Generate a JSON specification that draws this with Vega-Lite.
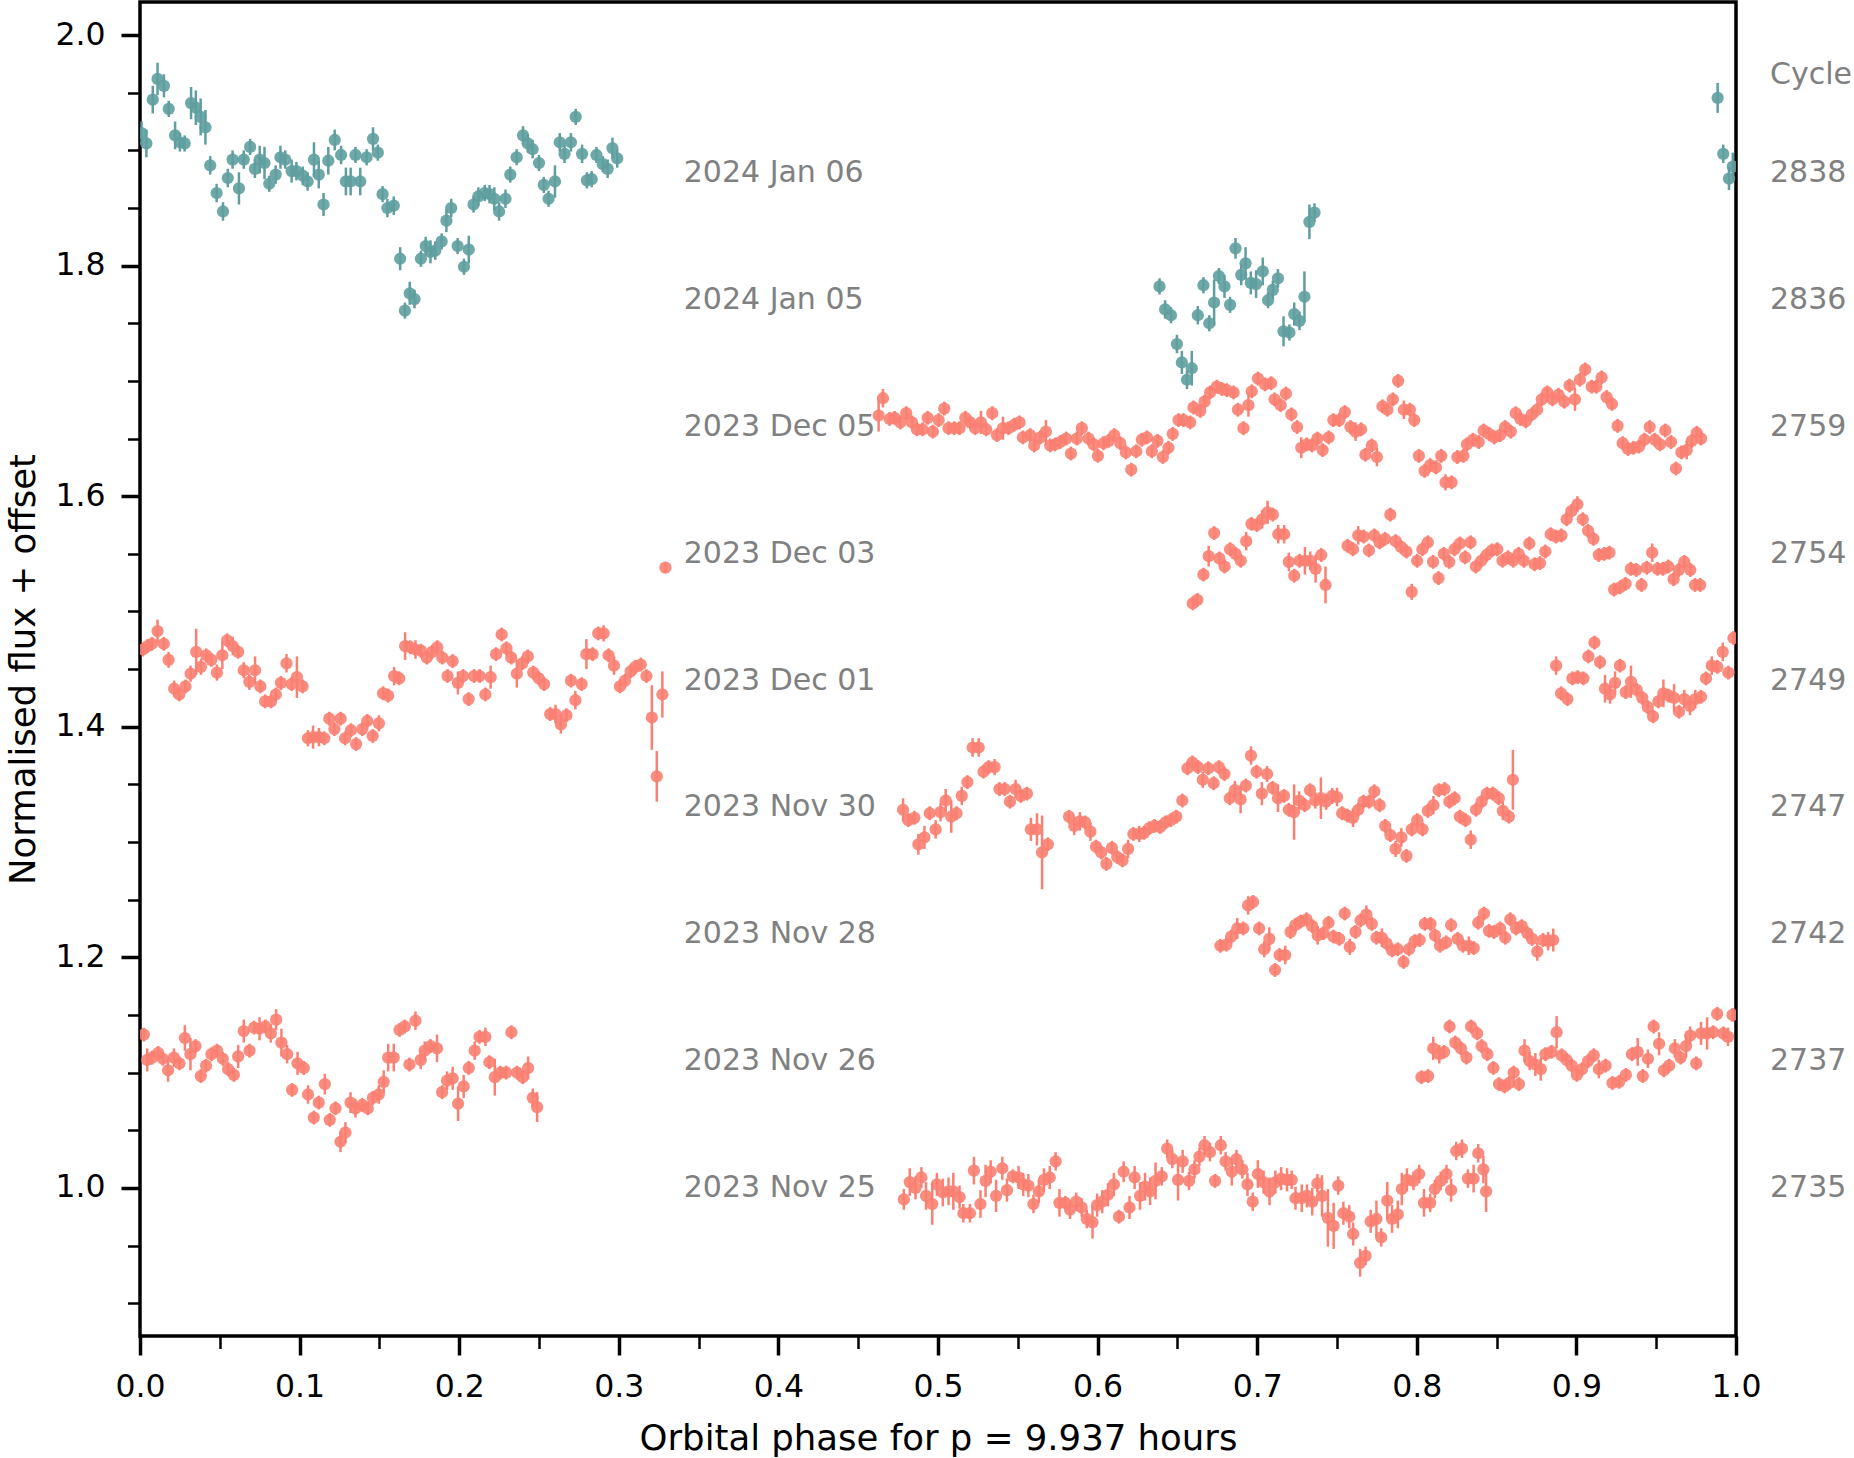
{
  "$schema": "https://vega.github.io/schema/vega-lite/v6.json",
  "width": 1596,
  "height": 1334,
  "autosize": {"type": "none"},
  "padding": {"left": 140, "top": 2, "right": 118, "bottom": 122},
  "background": "white",
  "config": {
    "view": {"stroke": "black", "strokeWidth": 3.5},
    "font": "DejaVu Sans",
    "axis": {
      "domain": false, "grid": false,
      "labelFont": "DejaVu Sans", "labelFontSize": 31.5, "labelColor": "black",
      "titleFont": "DejaVu Sans", "titleFontSize": 35.5, "titleFontWeight": "normal", "titleColor": "black",
      "tickColor": "black", "labelPadding": 16, "labelFlush": false, "labelOverlap": false, "labelBound": false
    }
  },
  "data": {"values": [
    {"s":"2838","p":0.001,"f":1.915,"e":0.010},{"s":"2838","p":0.004,"f":1.906,"e":0.012},{"s":"2838","p":0.008,"f":1.944,"e":0.012},{"s":"2838","p":0.011,"f":1.962,"e":0.014},
    {"s":"2838","p":0.015,"f":1.956,"e":0.010},{"s":"2838","p":0.018,"f":1.936,"e":0.007},{"s":"2838","p":0.022,"f":1.913,"e":0.012},{"s":"2838","p":0.025,"f":1.907,"e":0.008},
    {"s":"2838","p":0.028,"f":1.906,"e":0.007},{"s":"2838","p":0.032,"f":1.941,"e":0.014},{"s":"2838","p":0.035,"f":1.937,"e":0.015},{"s":"2838","p":0.038,"f":1.929,"e":0.016},
    {"s":"2838","p":0.041,"f":1.920,"e":0.015},{"s":"2838","p":0.044,"f":1.887,"e":0.008},{"s":"2838","p":0.048,"f":1.863,"e":0.008},{"s":"2838","p":0.052,"f":1.847,"e":0.008},
    {"s":"2838","p":0.055,"f":1.876,"e":0.008},{"s":"2838","p":0.058,"f":1.892,"e":0.008},{"s":"2838","p":0.062,"f":1.867,"e":0.014},{"s":"2838","p":0.065,"f":1.892,"e":0.008},
    {"s":"2838","p":0.069,"f":1.903,"e":0.007},{"s":"2838","p":0.072,"f":1.884,"e":0.008},{"s":"2838","p":0.075,"f":1.892,"e":0.012},{"s":"2838","p":0.078,"f":1.889,"e":0.014},
    {"s":"2838","p":0.081,"f":1.871,"e":0.007},{"s":"2838","p":0.085,"f":1.879,"e":0.008},{"s":"2838","p":0.088,"f":1.894,"e":0.010},{"s":"2838","p":0.091,"f":1.892,"e":0.008},
    {"s":"2838","p":0.095,"f":1.882,"e":0.010},{"s":"2838","p":0.098,"f":1.882,"e":0.008},{"s":"2838","p":0.102,"f":1.878,"e":0.008},{"s":"2838","p":0.105,"f":1.873,"e":0.008},
    {"s":"2838","p":0.109,"f":1.892,"e":0.015},{"s":"2838","p":0.112,"f":1.879,"e":0.012},{"s":"2838","p":0.115,"f":1.853,"e":0.010},{"s":"2838","p":0.118,"f":1.891,"e":0.012},
    {"s":"2838","p":0.122,"f":1.909,"e":0.009},{"s":"2838","p":0.126,"f":1.896,"e":0.008},{"s":"2838","p":0.129,"f":1.873,"e":0.012},{"s":"2838","p":0.132,"f":1.873,"e":0.012},
    {"s":"2838","p":0.135,"f":1.896,"e":0.007},{"s":"2838","p":0.138,"f":1.873,"e":0.012},{"s":"2838","p":0.142,"f":1.894,"e":0.007},{"s":"2838","p":0.146,"f":1.910,"e":0.010},
    {"s":"2838","p":0.149,"f":1.898,"e":0.007},{"s":"2838","p":0.152,"f":1.862,"e":0.007},{"s":"2838","p":0.155,"f":1.850,"e":0.008},{"s":"2838","p":0.159,"f":1.852,"e":0.008},
    {"s":"2838","p":0.163,"f":1.806,"e":0.010},{"s":"2838","p":0.166,"f":1.761,"e":0.007},{"s":"2838","p":0.169,"f":1.776,"e":0.010},{"s":"2838","p":0.172,"f":1.771,"e":0.008},
    {"s":"2838","p":0.176,"f":1.806,"e":0.007},{"s":"2838","p":0.179,"f":1.817,"e":0.008},{"s":"2838","p":0.182,"f":1.812,"e":0.010},{"s":"2838","p":0.185,"f":1.813,"e":0.008},
    {"s":"2838","p":0.189,"f":1.821,"e":0.007},{"s":"2838","p":0.192,"f":1.839,"e":0.010},{"s":"2838","p":0.195,"f":1.850,"e":0.008},{"s":"2838","p":0.199,"f":1.817,"e":0.007},
    {"s":"2838","p":0.203,"f":1.799,"e":0.007},{"s":"2838","p":0.206,"f":1.814,"e":0.012},{"s":"2838","p":0.209,"f":1.853,"e":0.007},{"s":"2838","p":0.212,"f":1.860,"e":0.008},
    {"s":"2838","p":0.216,"f":1.863,"e":0.007},{"s":"2838","p":0.219,"f":1.862,"e":0.008},{"s":"2838","p":0.222,"f":1.858,"e":0.010},{"s":"2838","p":0.225,"f":1.847,"e":0.008},
    {"s":"2838","p":0.229,"f":1.858,"e":0.008},{"s":"2838","p":0.232,"f":1.879,"e":0.007},{"s":"2838","p":0.236,"f":1.894,"e":0.007},{"s":"2838","p":0.240,"f":1.913,"e":0.008},
    {"s":"2838","p":0.243,"f":1.906,"e":0.008},{"s":"2838","p":0.246,"f":1.901,"e":0.008},{"s":"2838","p":0.250,"f":1.889,"e":0.007},{"s":"2838","p":0.253,"f":1.870,"e":0.007},
    {"s":"2838","p":0.256,"f":1.858,"e":0.007},{"s":"2838","p":0.260,"f":1.873,"e":0.014},{"s":"2838","p":0.263,"f":1.907,"e":0.008},{"s":"2838","p":0.266,"f":1.897,"e":0.008},
    {"s":"2838","p":0.270,"f":1.907,"e":0.008},{"s":"2838","p":0.273,"f":1.929,"e":0.007},{"s":"2838","p":0.277,"f":1.897,"e":0.008},{"s":"2838","p":0.280,"f":1.874,"e":0.007},
    {"s":"2838","p":0.283,"f":1.875,"e":0.007},{"s":"2838","p":0.286,"f":1.896,"e":0.007},{"s":"2838","p":0.290,"f":1.888,"e":0.007},{"s":"2838","p":0.293,"f":1.884,"e":0.008},
    {"s":"2838","p":0.296,"f":1.902,"e":0.009},{"s":"2838","p":0.299,"f":1.893,"e":0.008},
    {"s":"2838","p":0.9885,"f":1.9455,"e":0.013},{"s":"2838","p":0.992,"f":1.897,"e":0.008},{"s":"2838","p":0.9956,"f":1.8755,"e":0.010},{"s":"2838","p":0.998,"f":1.886,"e":0.012},

    {"s":"2836","p":0.6388,"f":1.782,"e":0.007},{"s":"2836","p":0.6423,"f":1.762,"e":0.008},{"s":"2836","p":0.646,"f":1.757,"e":0.007},{"s":"2836","p":0.6497,"f":1.732,"e":0.008},
    {"s":"2836","p":0.6528,"f":1.716,"e":0.010},{"s":"2836","p":0.656,"f":1.701,"e":0.008},{"s":"2836","p":0.659,"f":1.711,"e":0.015},{"s":"2836","p":0.6628,"f":1.757,"e":0.008},
    {"s":"2836","p":0.6663,"f":1.783,"e":0.007},{"s":"2836","p":0.670,"f":1.750,"e":0.007},{"s":"2836","p":0.673,"f":1.768,"e":0.020},{"s":"2836","p":0.676,"f":1.791,"e":0.007},
    {"s":"2836","p":0.6795,"f":1.782,"e":0.010},{"s":"2836","p":0.683,"f":1.766,"e":0.007},{"s":"2836","p":0.6864,"f":1.815,"e":0.009},{"s":"2836","p":0.690,"f":1.792,"e":0.009},
    {"s":"2836","p":0.6927,"f":1.802,"e":0.014},{"s":"2836","p":0.696,"f":1.785,"e":0.010},{"s":"2836","p":0.6993,"f":1.784,"e":0.012},{"s":"2836","p":0.7035,"f":1.795,"e":0.012},
    {"s":"2836","p":0.7068,"f":1.770,"e":0.007},{"s":"2836","p":0.7098,"f":1.779,"e":0.008},{"s":"2836","p":0.713,"f":1.789,"e":0.008},{"s":"2836","p":0.7165,"f":1.743,"e":0.013},
    {"s":"2836","p":0.7202,"f":1.742,"e":0.007},{"s":"2836","p":0.7232,"f":1.758,"e":0.010},{"s":"2836","p":0.7265,"f":1.752,"e":0.008},{"s":"2836","p":0.7296,"f":1.773,"e":0.022},
    {"s":"2836","p":0.7327,"f":1.838,"e":0.015},{"s":"2836","p":0.7359,"f":1.846,"e":0.008},

    {"s":"2759","p":0.4628,"f":1.670,"e":0.014},{"s":"2759","p":0.4655,"f":1.685,"e":0.008},{"s":"2759","p":0.4697,"f":1.667,"e":0.006},{"s":"2759","p":0.4728,"f":1.668,"e":0.006},
    {"s":"2759","p":0.4764,"f":1.664,"e":0.006},{"s":"2759","p":0.4801,"f":1.672,"e":0.006},{"s":"2759","p":0.4837,"f":1.664,"e":0.006},{"s":"2759","p":0.4868,"f":1.658,"e":0.006},
    {"s":"2759","p":0.4903,"f":1.658,"e":0.006},{"s":"2759","p":0.4935,"f":1.668,"e":0.006},{"s":"2759","p":0.4968,"f":1.656,"e":0.006},{"s":"2759","p":0.5004,"f":1.666,"e":0.006},
    {"s":"2759","p":0.5039,"f":1.676,"e":0.006},{"s":"2759","p":0.5066,"f":1.659,"e":0.006},{"s":"2759","p":0.5102,"f":1.659,"e":0.006},{"s":"2759","p":0.5135,"f":1.659,"e":0.006},
    {"s":"2759","p":0.5171,"f":1.668,"e":0.006},{"s":"2759","p":0.5202,"f":1.664,"e":0.006},{"s":"2759","p":0.5233,"f":1.659,"e":0.006},{"s":"2759","p":0.5269,"f":1.664,"e":0.010},
    {"s":"2759","p":0.5302,"f":1.658,"e":0.006},{"s":"2759","p":0.5340,"f":1.672,"e":0.006},{"s":"2759","p":0.5369,"f":1.653,"e":0.006},{"s":"2759","p":0.5407,"f":1.659,"e":0.010},
    {"s":"2759","p":0.5442,"f":1.659,"e":0.006},{"s":"2759","p":0.5478,"f":1.662,"e":0.006},{"s":"2759","p":0.5511,"f":1.664,"e":0.006},{"s":"2759","p":0.5532,"f":1.651,"e":0.006},
    {"s":"2759","p":0.5578,"f":1.653,"e":0.006},{"s":"2759","p":0.5603,"f":1.644,"e":0.006},{"s":"2759","p":0.5641,"f":1.651,"e":0.006},{"s":"2759","p":0.5676,"f":1.656,"e":0.010},
    {"s":"2759","p":0.5703,"f":1.644,"e":0.006},{"s":"2759","p":0.5734,"f":1.645,"e":0.006},{"s":"2759","p":0.5766,"f":1.647,"e":0.006},{"s":"2759","p":0.5803,"f":1.650,"e":0.006},
    {"s":"2759","p":0.5833,"f":1.637,"e":0.006},{"s":"2759","p":0.5870,"f":1.650,"e":0.006},{"s":"2759","p":0.5901,"f":1.659,"e":0.006},{"s":"2759","p":0.5943,"f":1.650,"e":0.006},
    {"s":"2759","p":0.5975,"f":1.645,"e":0.006},{"s":"2759","p":0.6002,"f":1.635,"e":0.006},{"s":"2759","p":0.6037,"f":1.646,"e":0.006},{"s":"2759","p":0.6069,"f":1.648,"e":0.006},
    {"s":"2759","p":0.6104,"f":1.653,"e":0.006},{"s":"2759","p":0.6142,"f":1.646,"e":0.006},{"s":"2759","p":0.6177,"f":1.638,"e":0.006},{"s":"2759","p":0.6211,"f":1.623,"e":0.006},
    {"s":"2759","p":0.6242,"f":1.639,"e":0.006},{"s":"2759","p":0.6277,"f":1.649,"e":0.006},{"s":"2759","p":0.6309,"f":1.651,"e":0.006},{"s":"2759","p":0.6340,"f":1.639,"e":0.006},
    {"s":"2759","p":0.6375,"f":1.648,"e":0.006},{"s":"2759","p":0.6409,"f":1.634,"e":0.006},{"s":"2759","p":0.6444,"f":1.642,"e":0.006},{"s":"2759","p":0.6471,"f":1.654,"e":0.006},
    {"s":"2759","p":0.6507,"f":1.666,"e":0.006},{"s":"2759","p":0.6538,"f":1.666,"e":0.006},{"s":"2759","p":0.6580,"f":1.664,"e":0.006},{"s":"2759","p":0.6601,"f":1.677,"e":0.006},
    {"s":"2759","p":0.6643,"f":1.674,"e":0.006},{"s":"2759","p":0.6670,"f":1.682,"e":0.006},{"s":"2759","p":0.6705,"f":1.690,"e":0.006},{"s":"2759","p":0.6747,"f":1.695,"e":0.006},
    {"s":"2759","p":0.6779,"f":1.693,"e":0.006},{"s":"2759","p":0.6810,"f":1.692,"e":0.006},{"s":"2759","p":0.6852,"f":1.690,"e":0.006},{"s":"2759","p":0.6879,"f":1.675,"e":0.006},
    {"s":"2759","p":0.6914,"f":1.659,"e":0.006},{"s":"2759","p":0.6945,"f":1.679,"e":0.010},{"s":"2759","p":0.6966,"f":1.691,"e":0.006},{"s":"2759","p":0.7005,"f":1.702,"e":0.006},
    {"s":"2759","p":0.7049,"f":1.697,"e":0.006},{"s":"2759","p":0.7087,"f":1.698,"e":0.006},{"s":"2759","p":0.7109,"f":1.684,"e":0.006},{"s":"2759","p":0.7147,"f":1.679,"e":0.006},
    {"s":"2759","p":0.7180,"f":1.689,"e":0.006},{"s":"2759","p":0.7214,"f":1.671,"e":0.006},{"s":"2759","p":0.7250,"f":1.660,"e":0.006},{"s":"2759","p":0.7276,"f":1.642,"e":0.009},
    {"s":"2759","p":0.7310,"f":1.645,"e":0.006},{"s":"2759","p":0.7343,"f":1.644,"e":0.006},{"s":"2759","p":0.7377,"f":1.650,"e":0.006},{"s":"2759","p":0.7410,"f":1.640,"e":0.006},
    {"s":"2759","p":0.7448,"f":1.651,"e":0.006},{"s":"2759","p":0.7477,"f":1.666,"e":0.006},{"s":"2759","p":0.7515,"f":1.666,"e":0.006},{"s":"2759","p":0.7549,"f":1.673,"e":0.006},
    {"s":"2759","p":0.7584,"f":1.660,"e":0.006},{"s":"2759","p":0.7616,"f":1.656,"e":0.008},{"s":"2759","p":0.7651,"f":1.658,"e":0.006},{"s":"2759","p":0.7678,"f":1.636,"e":0.006},
    {"s":"2759","p":0.7718,"f":1.644,"e":0.006},{"s":"2759","p":0.7750,"f":1.634,"e":0.008},{"s":"2759","p":0.7785,"f":1.678,"e":0.006},{"s":"2759","p":0.7816,"f":1.675,"e":0.006},
    {"s":"2759","p":0.7850,"f":1.684,"e":0.006},{"s":"2759","p":0.7883,"f":1.700,"e":0.006},{"s":"2759","p":0.7919,"f":1.675,"e":0.008},{"s":"2759","p":0.7957,"f":1.675,"e":0.006},
    {"s":"2759","p":0.7984,"f":1.666,"e":0.006},{"s":"2759","p":0.8013,"f":1.635,"e":0.006},{"s":"2759","p":0.8049,"f":1.622,"e":0.006},{"s":"2759","p":0.8084,"f":1.627,"e":0.006},
    {"s":"2759","p":0.8120,"f":1.625,"e":0.006},{"s":"2759","p":0.8153,"f":1.635,"e":0.006},{"s":"2759","p":0.8180,"f":1.612,"e":0.007},{"s":"2759","p":0.8218,"f":1.612,"e":0.006},
    {"s":"2759","p":0.8254,"f":1.634,"e":0.006},{"s":"2759","p":0.8292,"f":1.635,"e":0.006},{"s":"2759","p":0.8314,"f":1.645,"e":0.006},{"s":"2759","p":0.8352,"f":1.649,"e":0.006},
    {"s":"2759","p":0.8388,"f":1.647,"e":0.006},{"s":"2759","p":0.8419,"f":1.657,"e":0.006},{"s":"2759","p":0.8453,"f":1.654,"e":0.006},{"s":"2759","p":0.8486,"f":1.651,"e":0.006},
    {"s":"2759","p":0.8522,"f":1.653,"e":0.006},{"s":"2759","p":0.8553,"f":1.660,"e":0.006},{"s":"2759","p":0.8589,"f":1.656,"e":0.006},{"s":"2759","p":0.8620,"f":1.672,"e":0.006},
    {"s":"2759","p":0.8649,"f":1.667,"e":0.006},{"s":"2759","p":0.8683,"f":1.665,"e":0.006},{"s":"2759","p":0.8721,"f":1.671,"e":0.006},{"s":"2759","p":0.8754,"f":1.675,"e":0.006},
    {"s":"2759","p":0.8783,"f":1.684,"e":0.006},{"s":"2759","p":0.8817,"f":1.690,"e":0.006},{"s":"2759","p":0.8850,"f":1.684,"e":0.006},{"s":"2759","p":0.8888,"f":1.688,"e":0.006},
    {"s":"2759","p":0.8924,"f":1.682,"e":0.006},{"s":"2759","p":0.8957,"f":1.696,"e":0.006},{"s":"2759","p":0.8991,"f":1.684,"e":0.010},{"s":"2759","p":0.9022,"f":1.701,"e":0.006},
    {"s":"2759","p":0.9055,"f":1.710,"e":0.006},{"s":"2759","p":0.9096,"f":1.695,"e":0.006},{"s":"2759","p":0.9125,"f":1.695,"e":0.006},{"s":"2759","p":0.9158,"f":1.703,"e":0.006},
    {"s":"2759","p":0.9189,"f":1.686,"e":0.006},{"s":"2759","p":0.9223,"f":1.680,"e":0.006},{"s":"2759","p":0.9258,"f":1.661,"e":0.006},{"s":"2759","p":0.9290,"f":1.646,"e":0.006},
    {"s":"2759","p":0.9323,"f":1.641,"e":0.006},{"s":"2759","p":0.9357,"f":1.642,"e":0.006},{"s":"2759","p":0.9392,"f":1.643,"e":0.006},{"s":"2759","p":0.9426,"f":1.649,"e":0.006},
    {"s":"2759","p":0.9459,"f":1.660,"e":0.006},{"s":"2759","p":0.9491,"f":1.649,"e":0.006},{"s":"2759","p":0.9524,"f":1.645,"e":0.006},{"s":"2759","p":0.9557,"f":1.657,"e":0.006},
    {"s":"2759","p":0.9593,"f":1.647,"e":0.006},{"s":"2759","p":0.9624,"f":1.624,"e":0.006},{"s":"2759","p":0.9658,"f":1.638,"e":0.006},{"s":"2759","p":0.9691,"f":1.640,"e":0.008},
    {"s":"2759","p":0.9723,"f":1.648,"e":0.006},{"s":"2759","p":0.9754,"f":1.655,"e":0.006},{"s":"2759","p":0.9781,"f":1.650,"e":0.006},

    {"s":"2754","p":0.6596,"f":1.507,"e":0.006},{"s":"2754","p":0.6625,"f":1.510,"e":0.006},{"s":"2754","p":0.6663,"f":1.532,"e":0.006},{"s":"2754","p":0.6696,"f":1.548,"e":0.009},
    {"s":"2754","p":0.6730,"f":1.568,"e":0.006},{"s":"2754","p":0.6763,"f":1.546,"e":0.006},{"s":"2754","p":0.6796,"f":1.539,"e":0.006},{"s":"2754","p":0.6830,"f":1.554,"e":0.006},
    {"s":"2754","p":0.6864,"f":1.550,"e":0.006},{"s":"2754","p":0.6897,"f":1.544,"e":0.006},{"s":"2754","p":0.6931,"f":1.561,"e":0.008},{"s":"2754","p":0.6964,"f":1.576,"e":0.006},
    {"s":"2754","p":0.6998,"f":1.575,"e":0.006},{"s":"2754","p":0.7031,"f":1.580,"e":0.008},{"s":"2754","p":0.7065,"f":1.586,"e":0.010},{"s":"2754","p":0.7098,"f":1.584,"e":0.006},
    {"s":"2754","p":0.7132,"f":1.567,"e":0.008},{"s":"2754","p":0.7169,"f":1.567,"e":0.008},{"s":"2754","p":0.7198,"f":1.543,"e":0.008},{"s":"2754","p":0.7232,"f":1.531,"e":0.006},
    {"s":"2754","p":0.7265,"f":1.544,"e":0.006},{"s":"2754","p":0.7299,"f":1.544,"e":0.012},{"s":"2754","p":0.7332,"f":1.544,"e":0.008},{"s":"2754","p":0.7366,"f":1.537,"e":0.012},
    {"s":"2754","p":0.7401,"f":1.549,"e":0.006},{"s":"2754","p":0.7428,"f":1.523,"e":0.016},{"s":"2754","p":0.7566,"f":1.557,"e":0.006},{"s":"2754","p":0.7600,"f":1.554,"e":0.006},
    {"s":"2754","p":0.7633,"f":1.566,"e":0.008},{"s":"2754","p":0.7667,"f":1.565,"e":0.006},{"s":"2754","p":0.7700,"f":1.553,"e":0.006},{"s":"2754","p":0.7734,"f":1.566,"e":0.006},
    {"s":"2754","p":0.7767,"f":1.560,"e":0.006},{"s":"2754","p":0.7801,"f":1.563,"e":0.006},{"s":"2754","p":0.7834,"f":1.584,"e":0.006},{"s":"2754","p":0.7868,"f":1.561,"e":0.006},
    {"s":"2754","p":0.7901,"f":1.556,"e":0.006},{"s":"2754","p":0.7935,"f":1.552,"e":0.006},{"s":"2754","p":0.7968,"f":1.517,"e":0.007},{"s":"2754","p":0.8002,"f":1.544,"e":0.006},
    {"s":"2754","p":0.8035,"f":1.554,"e":0.006},{"s":"2754","p":0.8069,"f":1.560,"e":0.006},{"s":"2754","p":0.8102,"f":1.543,"e":0.006},{"s":"2754","p":0.8136,"f":1.529,"e":0.006},
    {"s":"2754","p":0.8169,"f":1.550,"e":0.006},{"s":"2754","p":0.8203,"f":1.543,"e":0.006},{"s":"2754","p":0.8236,"f":1.554,"e":0.006},{"s":"2754","p":0.8270,"f":1.559,"e":0.006},
    {"s":"2754","p":0.8303,"f":1.547,"e":0.006},{"s":"2754","p":0.8337,"f":1.560,"e":0.006},{"s":"2754","p":0.8370,"f":1.539,"e":0.006},{"s":"2754","p":0.8404,"f":1.544,"e":0.006},
    {"s":"2754","p":0.8437,"f":1.549,"e":0.006},{"s":"2754","p":0.8471,"f":1.553,"e":0.006},{"s":"2754","p":0.8504,"f":1.554,"e":0.006},{"s":"2754","p":0.8537,"f":1.544,"e":0.006},
    {"s":"2754","p":0.8571,"f":1.547,"e":0.006},{"s":"2754","p":0.8604,"f":1.544,"e":0.006},{"s":"2754","p":0.8638,"f":1.550,"e":0.006},{"s":"2754","p":0.8671,"f":1.544,"e":0.006},
    {"s":"2754","p":0.8705,"f":1.559,"e":0.006},{"s":"2754","p":0.8738,"f":1.541,"e":0.006},{"s":"2754","p":0.8772,"f":1.542,"e":0.006},{"s":"2754","p":0.8805,"f":1.552,"e":0.006},
    {"s":"2754","p":0.8839,"f":1.567,"e":0.006},{"s":"2754","p":0.8872,"f":1.565,"e":0.006},{"s":"2754","p":0.8906,"f":1.566,"e":0.006},{"s":"2754","p":0.8939,"f":1.580,"e":0.006},
    {"s":"2754","p":0.8968,"f":1.587,"e":0.006},{"s":"2754","p":0.9006,"f":1.593,"e":0.007},{"s":"2754","p":0.9040,"f":1.580,"e":0.006},{"s":"2754","p":0.9073,"f":1.570,"e":0.006},
    {"s":"2754","p":0.9107,"f":1.563,"e":0.006},{"s":"2754","p":0.9140,"f":1.549,"e":0.006},{"s":"2754","p":0.9174,"f":1.550,"e":0.006},{"s":"2754","p":0.9207,"f":1.551,"e":0.006},
    {"s":"2754","p":0.9236,"f":1.519,"e":0.006},{"s":"2754","p":0.9274,"f":1.521,"e":0.006},{"s":"2754","p":0.9308,"f":1.524,"e":0.006},{"s":"2754","p":0.9341,"f":1.537,"e":0.006},
    {"s":"2754","p":0.9375,"f":1.536,"e":0.006},{"s":"2754","p":0.9408,"f":1.523,"e":0.006},{"s":"2754","p":0.9441,"f":1.538,"e":0.006},{"s":"2754","p":0.9475,"f":1.551,"e":0.008},
    {"s":"2754","p":0.9508,"f":1.537,"e":0.006},{"s":"2754","p":0.9542,"f":1.537,"e":0.006},{"s":"2754","p":0.9576,"f":1.539,"e":0.006},{"s":"2754","p":0.9609,"f":1.528,"e":0.006},
    {"s":"2754","p":0.9642,"f":1.536,"e":0.006},{"s":"2754","p":0.9676,"f":1.543,"e":0.006},{"s":"2754","p":0.9714,"f":1.536,"e":0.006},{"s":"2754","p":0.9743,"f":1.523,"e":0.006},
    {"s":"2754","p":0.9776,"f":1.523,"e":0.006},

    {"s":"2749","p":0.0019,"f":1.467,"e":0.006},{"s":"2749","p":0.0047,"f":1.470,"e":0.006},{"s":"2749","p":0.0075,"f":1.472,"e":0.006},{"s":"2749","p":0.0110,"f":1.483,"e":0.010},
    {"s":"2749","p":0.0149,"f":1.472,"e":0.006},{"s":"2749","p":0.0179,"f":1.458,"e":0.007},{"s":"2749","p":0.0214,"f":1.433,"e":0.007},{"s":"2749","p":0.0246,"f":1.428,"e":0.006},
    {"s":"2749","p":0.0285,"f":1.435,"e":0.006},{"s":"2749","p":0.0317,"f":1.446,"e":0.007},{"s":"2749","p":0.0352,"f":1.465,"e":0.020},{"s":"2749","p":0.0382,"f":1.452,"e":0.007},
    {"s":"2749","p":0.0415,"f":1.462,"e":0.006},{"s":"2749","p":0.0447,"f":1.458,"e":0.006},{"s":"2749","p":0.0482,"f":1.447,"e":0.007},{"s":"2749","p":0.0516,"f":1.462,"e":0.012},
    {"s":"2749","p":0.0546,"f":1.475,"e":0.006},{"s":"2749","p":0.0581,"f":1.470,"e":0.008},{"s":"2749","p":0.0615,"f":1.465,"e":0.006},{"s":"2749","p":0.0650,"f":1.449,"e":0.007},
    {"s":"2749","p":0.0685,"f":1.439,"e":0.007},{"s":"2749","p":0.0721,"f":1.449,"e":0.012},{"s":"2749","p":0.0754,"f":1.435,"e":0.006},{"s":"2749","p":0.0784,"f":1.422,"e":0.006},
    {"s":"2749","p":0.0821,"f":1.422,"e":0.006},{"s":"2749","p":0.0851,"f":1.428,"e":0.006},{"s":"2749","p":0.0883,"f":1.438,"e":0.006},{"s":"2749","p":0.0918,"f":1.455,"e":0.008},
    {"s":"2749","p":0.0950,"f":1.437,"e":0.006},{"s":"2749","p":0.0983,"f":1.443,"e":0.018},{"s":"2749","p":0.1019,"f":1.435,"e":0.006},{"s":"2749","p":0.1052,"f":1.390,"e":0.007},
    {"s":"2749","p":0.1084,"f":1.391,"e":0.010},{"s":"2749","p":0.1121,"f":1.391,"e":0.008},{"s":"2749","p":0.1155,"f":1.390,"e":0.006},{"s":"2749","p":0.1186,"f":1.407,"e":0.006},
    {"s":"2749","p":0.1218,"f":1.398,"e":0.006},{"s":"2749","p":0.1257,"f":1.407,"e":0.006},{"s":"2749","p":0.1285,"f":1.390,"e":0.006},{"s":"2749","p":0.1322,"f":1.397,"e":0.006},
    {"s":"2749","p":0.1354,"f":1.385,"e":0.006},{"s":"2749","p":0.1393,"f":1.398,"e":0.006},{"s":"2749","p":0.1424,"f":1.405,"e":0.006},{"s":"2749","p":0.1458,"f":1.392,"e":0.006},
    {"s":"2749","p":0.1497,"f":1.403,"e":0.007},{"s":"2749","p":0.1523,"f":1.429,"e":0.006},{"s":"2749","p":0.1555,"f":1.427,"e":0.006},{"s":"2749","p":0.1592,"f":1.444,"e":0.008},
    {"s":"2749","p":0.1624,"f":1.442,"e":0.006},{"s":"2749","p":0.1661,"f":1.470,"e":0.012},{"s":"2749","p":0.1693,"f":1.469,"e":0.006},{"s":"2749","p":0.1726,"f":1.467,"e":0.008},
    {"s":"2749","p":0.1760,"f":1.466,"e":0.006},{"s":"2749","p":0.1797,"f":1.460,"e":0.006},{"s":"2749","p":0.1830,"f":1.465,"e":0.006},{"s":"2749","p":0.1862,"f":1.469,"e":0.006},
    {"s":"2749","p":0.1894,"f":1.460,"e":0.006},{"s":"2749","p":0.1927,"f":1.444,"e":0.006},{"s":"2749","p":0.1959,"f":1.457,"e":0.006},{"s":"2749","p":0.1992,"f":1.438,"e":0.010},
    {"s":"2749","p":0.2024,"f":1.444,"e":0.006},{"s":"2749","p":0.2059,"f":1.424,"e":0.006},{"s":"2749","p":0.2093,"f":1.444,"e":0.006},{"s":"2749","p":0.2128,"f":1.444,"e":0.006},
    {"s":"2749","p":0.2164,"f":1.428,"e":0.006},{"s":"2749","p":0.2197,"f":1.443,"e":0.010},{"s":"2749","p":0.2231,"f":1.463,"e":0.006},{"s":"2749","p":0.2266,"f":1.480,"e":0.006},
    {"s":"2749","p":0.2296,"f":1.468,"e":0.006},{"s":"2749","p":0.2326,"f":1.460,"e":0.006},{"s":"2749","p":0.2361,"f":1.446,"e":0.012},{"s":"2749","p":0.2395,"f":1.455,"e":0.006},
    {"s":"2749","p":0.2430,"f":1.461,"e":0.006},{"s":"2749","p":0.2464,"f":1.447,"e":0.006},{"s":"2749","p":0.2499,"f":1.442,"e":0.006},{"s":"2749","p":0.2532,"f":1.437,"e":0.006},
    {"s":"2749","p":0.2570,"f":1.411,"e":0.006},{"s":"2749","p":0.2603,"f":1.411,"e":0.008},{"s":"2749","p":0.2637,"f":1.402,"e":0.008},{"s":"2749","p":0.2672,"f":1.410,"e":0.006},
    {"s":"2749","p":0.2700,"f":1.440,"e":0.006},{"s":"2749","p":0.2728,"f":1.423,"e":0.008},{"s":"2749","p":0.2767,"f":1.437,"e":0.006},{"s":"2749","p":0.2797,"f":1.463,"e":0.013},
    {"s":"2749","p":0.2836,"f":1.463,"e":0.006},{"s":"2749","p":0.2871,"f":1.481,"e":0.006},{"s":"2749","p":0.2905,"f":1.481,"e":0.007},{"s":"2749","p":0.2936,"f":1.462,"e":0.006},
    {"s":"2749","p":0.2970,"f":1.453,"e":0.008},{"s":"2749","p":0.3007,"f":1.435,"e":0.006},{"s":"2749","p":0.3039,"f":1.440,"e":0.006},{"s":"2749","p":0.3074,"f":1.448,"e":0.006},
    {"s":"2749","p":0.3104,"f":1.452,"e":0.006},{"s":"2749","p":0.3138,"f":1.454,"e":0.006},{"s":"2749","p":0.3173,"f":1.444,"e":0.006},{"s":"2749","p":0.3207,"f":1.408,"e":0.028},
    {"s":"2749","p":0.3238,"f":1.357,"e":0.022},{"s":"2749","p":0.3273,"f":1.428,"e":0.020},{"s":"2749","p":0.3292,"f":1.538,"e":0.004},
    {"s":"2749","p":0.8873,"f":1.453,"e":0.008},{"s":"2749","p":0.8904,"f":1.429,"e":0.006},{"s":"2749","p":0.8944,"f":1.424,"e":0.006},{"s":"2749","p":0.8975,"f":1.442,"e":0.006},
    {"s":"2749","p":0.9008,"f":1.443,"e":0.006},{"s":"2749","p":0.9044,"f":1.442,"e":0.006},{"s":"2749","p":0.9075,"f":1.461,"e":0.006},{"s":"2749","p":0.9113,"f":1.473,"e":0.006},
    {"s":"2749","p":0.9148,"f":1.456,"e":0.006},{"s":"2749","p":0.9179,"f":1.433,"e":0.012},{"s":"2749","p":0.9211,"f":1.428,"e":0.008},{"s":"2749","p":0.9242,"f":1.438,"e":0.010},
    {"s":"2749","p":0.9273,"f":1.453,"e":0.006},{"s":"2749","p":0.9309,"f":1.430,"e":0.006},{"s":"2749","p":0.9342,"f":1.439,"e":0.014},{"s":"2749","p":0.9378,"f":1.432,"e":0.006},
    {"s":"2749","p":0.9413,"f":1.425,"e":0.006},{"s":"2749","p":0.9447,"f":1.417,"e":0.006},{"s":"2749","p":0.9480,"f":1.409,"e":0.006},{"s":"2749","p":0.9514,"f":1.422,"e":0.006},
    {"s":"2749","p":0.9545,"f":1.429,"e":0.012},{"s":"2749","p":0.9578,"f":1.427,"e":0.006},{"s":"2749","p":0.9612,"f":1.425,"e":0.012},{"s":"2749","p":0.9643,"f":1.413,"e":0.006},
    {"s":"2749","p":0.9676,"f":1.424,"e":0.008},{"s":"2749","p":0.9712,"f":1.418,"e":0.008},{"s":"2749","p":0.9745,"f":1.424,"e":0.008},{"s":"2749","p":0.9781,"f":1.426,"e":0.006},
    {"s":"2749","p":0.9812,"f":1.442,"e":0.006},{"s":"2749","p":0.9848,"f":1.453,"e":0.008},{"s":"2749","p":0.9883,"f":1.452,"e":0.006},{"s":"2749","p":0.9917,"f":1.465,"e":0.008},
    {"s":"2749","p":0.9952,"f":1.447,"e":0.006},{"s":"2749","p":0.9984,"f":1.477,"e":0.006},

    {"s":"2747","p":0.4781,"f":1.328,"e":0.010},{"s":"2747","p":0.4814,"f":1.319,"e":0.006},{"s":"2747","p":0.4852,"f":1.321,"e":0.006},{"s":"2747","p":0.4877,"f":1.298,"e":0.009},
    {"s":"2747","p":0.4915,"f":1.304,"e":0.010},{"s":"2747","p":0.4948,"f":1.325,"e":0.006},{"s":"2747","p":0.4985,"f":1.311,"e":0.008},{"s":"2747","p":0.5016,"f":1.326,"e":0.008},
    {"s":"2747","p":0.5048,"f":1.336,"e":0.010},{"s":"2747","p":0.5083,"f":1.322,"e":0.014},{"s":"2747","p":0.5116,"f":1.325,"e":0.006},{"s":"2747","p":0.5149,"f":1.340,"e":0.008},
    {"s":"2747","p":0.5184,"f":1.352,"e":0.006},{"s":"2747","p":0.5217,"f":1.382,"e":0.008},{"s":"2747","p":0.5255,"f":1.382,"e":0.008},{"s":"2747","p":0.5285,"f":1.361,"e":0.006},
    {"s":"2747","p":0.5317,"f":1.365,"e":0.006},{"s":"2747","p":0.5355,"f":1.365,"e":0.007},{"s":"2747","p":0.5385,"f":1.346,"e":0.006},{"s":"2747","p":0.5418,"f":1.346,"e":0.006},
    {"s":"2747","p":0.5451,"f":1.335,"e":0.006},{"s":"2747","p":0.5486,"f":1.346,"e":0.008},{"s":"2747","p":0.5519,"f":1.340,"e":0.006},{"s":"2747","p":0.5557,"f":1.342,"e":0.006},
    {"s":"2747","p":0.5582,"f":1.311,"e":0.010},{"s":"2747","p":0.5620,"f":1.311,"e":0.014},{"s":"2747","p":0.5652,"f":1.291,"e":0.032},{"s":"2747","p":0.5688,"f":1.298,"e":0.006},
    {"s":"2747","p":0.5821,"f":1.322,"e":0.006},{"s":"2747","p":0.5854,"f":1.314,"e":0.008},{"s":"2747","p":0.5889,"f":1.318,"e":0.008},{"s":"2747","p":0.5922,"f":1.317,"e":0.006},
    {"s":"2747","p":0.5955,"f":1.309,"e":0.008},{"s":"2747","p":0.5990,"f":1.296,"e":0.006},{"s":"2747","p":0.6023,"f":1.291,"e":0.006},{"s":"2747","p":0.6055,"f":1.281,"e":0.006},
    {"s":"2747","p":0.6090,"f":1.295,"e":0.006},{"s":"2747","p":0.6123,"f":1.287,"e":0.006},{"s":"2747","p":0.6156,"f":1.284,"e":0.006},{"s":"2747","p":0.6191,"f":1.294,"e":0.008},
    {"s":"2747","p":0.6224,"f":1.307,"e":0.006},{"s":"2747","p":0.6261,"f":1.307,"e":0.007},{"s":"2747","p":0.6291,"f":1.308,"e":0.006},{"s":"2747","p":0.6324,"f":1.312,"e":0.006},
    {"s":"2747","p":0.6357,"f":1.314,"e":0.006},{"s":"2747","p":0.6392,"f":1.313,"e":0.006},{"s":"2747","p":0.6425,"f":1.317,"e":0.006},{"s":"2747","p":0.6458,"f":1.319,"e":0.006},
    {"s":"2747","p":0.6493,"f":1.322,"e":0.006},{"s":"2747","p":0.6531,"f":1.336,"e":0.006},{"s":"2747","p":0.6563,"f":1.364,"e":0.006},{"s":"2747","p":0.6594,"f":1.369,"e":0.006},
    {"s":"2747","p":0.6629,"f":1.365,"e":0.006},{"s":"2747","p":0.6659,"f":1.354,"e":0.007},{"s":"2747","p":0.6694,"f":1.364,"e":0.006},{"s":"2747","p":0.6727,"f":1.351,"e":0.006},
    {"s":"2747","p":0.6760,"f":1.365,"e":0.006},{"s":"2747","p":0.6795,"f":1.359,"e":0.006},{"s":"2747","p":0.6828,"f":1.338,"e":0.006},{"s":"2747","p":0.6860,"f":1.345,"e":0.008},
    {"s":"2747","p":0.6896,"f":1.337,"e":0.012},{"s":"2747","p":0.6929,"f":1.349,"e":0.006},{"s":"2747","p":0.6961,"f":1.375,"e":0.008},{"s":"2747","p":0.6996,"f":1.361,"e":0.006},
    {"s":"2747","p":0.7029,"f":1.342,"e":0.010},{"s":"2747","p":0.7062,"f":1.359,"e":0.007},{"s":"2747","p":0.7097,"f":1.347,"e":0.006},{"s":"2747","p":0.7130,"f":1.338,"e":0.012},
    {"s":"2747","p":0.7168,"f":1.340,"e":0.006},{"s":"2747","p":0.7198,"f":1.328,"e":0.006},{"s":"2747","p":0.7231,"f":1.326,"e":0.024},{"s":"2747","p":0.7263,"f":1.336,"e":0.008},
    {"s":"2747","p":0.7298,"f":1.332,"e":0.006},{"s":"2747","p":0.7331,"f":1.345,"e":0.006},{"s":"2747","p":0.7364,"f":1.336,"e":0.007},{"s":"2747","p":0.7399,"f":1.338,"e":0.018},
    {"s":"2747","p":0.7432,"f":1.335,"e":0.007},{"s":"2747","p":0.7470,"f":1.340,"e":0.007},{"s":"2747","p":0.7500,"f":1.339,"e":0.008},{"s":"2747","p":0.7532,"f":1.325,"e":0.006},
    {"s":"2747","p":0.7565,"f":1.323,"e":0.006},{"s":"2747","p":0.7600,"f":1.321,"e":0.008},{"s":"2747","p":0.7633,"f":1.328,"e":0.006},{"s":"2747","p":0.7666,"f":1.335,"e":0.006},
    {"s":"2747","p":0.7701,"f":1.335,"e":0.006},{"s":"2747","p":0.7734,"f":1.344,"e":0.006},{"s":"2747","p":0.7767,"f":1.332,"e":0.006},{"s":"2747","p":0.7802,"f":1.314,"e":0.006},
    {"s":"2747","p":0.7834,"f":1.306,"e":0.006},{"s":"2747","p":0.7867,"f":1.294,"e":0.007},{"s":"2747","p":0.7903,"f":1.304,"e":0.008},{"s":"2747","p":0.7935,"f":1.288,"e":0.006},
    {"s":"2747","p":0.7968,"f":1.311,"e":0.006},{"s":"2747","p":0.8003,"f":1.319,"e":0.006},{"s":"2747","p":0.8036,"f":1.311,"e":0.006},{"s":"2747","p":0.8069,"f":1.327,"e":0.006},
    {"s":"2747","p":0.8104,"f":1.332,"e":0.008},{"s":"2747","p":0.8137,"f":1.345,"e":0.006},{"s":"2747","p":0.8174,"f":1.346,"e":0.006},{"s":"2747","p":0.8204,"f":1.335,"e":0.006},
    {"s":"2747","p":0.8237,"f":1.338,"e":0.006},{"s":"2747","p":0.8270,"f":1.322,"e":0.006},{"s":"2747","p":0.8305,"f":1.319,"e":0.006},{"s":"2747","p":0.8338,"f":1.302,"e":0.008},
    {"s":"2747","p":0.8371,"f":1.328,"e":0.006},{"s":"2747","p":0.8406,"f":1.335,"e":0.006},{"s":"2747","p":0.8439,"f":1.342,"e":0.006},{"s":"2747","p":0.8476,"f":1.342,"e":0.006},
    {"s":"2747","p":0.8514,"f":1.338,"e":0.006},{"s":"2747","p":0.8539,"f":1.327,"e":0.008},{"s":"2747","p":0.8577,"f":1.322,"e":0.006},{"s":"2747","p":0.8602,"f":1.354,"e":0.026},

    {"s":"2742","p":0.6769,"f":1.210,"e":0.006},{"s":"2742","p":0.6807,"f":1.211,"e":0.006},{"s":"2742","p":0.6837,"f":1.218,"e":0.006},{"s":"2742","p":0.6875,"f":1.225,"e":0.009},
    {"s":"2742","p":0.6913,"f":1.225,"e":0.006},{"s":"2742","p":0.6943,"f":1.245,"e":0.008},{"s":"2742","p":0.6974,"f":1.248,"e":0.006},{"s":"2742","p":0.7012,"f":1.225,"e":0.006},
    {"s":"2742","p":0.7044,"f":1.207,"e":0.007},{"s":"2742","p":0.7076,"f":1.216,"e":0.010},{"s":"2742","p":0.7112,"f":1.189,"e":0.006},{"s":"2742","p":0.7140,"f":1.202,"e":0.006},
    {"s":"2742","p":0.7176,"f":1.202,"e":0.008},{"s":"2742","p":0.7209,"f":1.222,"e":0.006},{"s":"2742","p":0.7239,"f":1.228,"e":0.006},{"s":"2742","p":0.7273,"f":1.231,"e":0.006},
    {"s":"2742","p":0.7309,"f":1.233,"e":0.006},{"s":"2742","p":0.7345,"f":1.227,"e":0.006},{"s":"2742","p":0.7379,"f":1.219,"e":0.008},{"s":"2742","p":0.7415,"f":1.221,"e":0.006},
    {"s":"2742","p":0.7447,"f":1.230,"e":0.006},{"s":"2742","p":0.7478,"f":1.218,"e":0.006},{"s":"2742","p":0.7514,"f":1.216,"e":0.006},{"s":"2742","p":0.7548,"f":1.238,"e":0.006},
    {"s":"2742","p":0.7580,"f":1.209,"e":0.007},{"s":"2742","p":0.7616,"f":1.222,"e":0.006},{"s":"2742","p":0.7648,"f":1.232,"e":0.006},{"s":"2742","p":0.7684,"f":1.237,"e":0.008},
    {"s":"2742","p":0.7718,"f":1.229,"e":0.006},{"s":"2742","p":0.7747,"f":1.217,"e":0.006},{"s":"2742","p":0.7781,"f":1.217,"e":0.008},{"s":"2742","p":0.7811,"f":1.212,"e":0.006},
    {"s":"2742","p":0.7845,"f":1.206,"e":0.006},{"s":"2742","p":0.7881,"f":1.207,"e":0.006},{"s":"2742","p":0.7917,"f":1.196,"e":0.006},{"s":"2742","p":0.7951,"f":1.207,"e":0.006},
    {"s":"2742","p":0.7987,"f":1.214,"e":0.006},{"s":"2742","p":0.8018,"f":1.215,"e":0.006},{"s":"2742","p":0.8050,"f":1.229,"e":0.006},{"s":"2742","p":0.8086,"f":1.229,"e":0.006},
    {"s":"2742","p":0.8114,"f":1.219,"e":0.006},{"s":"2742","p":0.8145,"f":1.210,"e":0.006},{"s":"2742","p":0.8184,"f":1.213,"e":0.006},{"s":"2742","p":0.8215,"f":1.228,"e":0.006},
    {"s":"2742","p":0.8256,"f":1.216,"e":0.006},{"s":"2742","p":0.8289,"f":1.210,"e":0.006},{"s":"2742","p":0.8326,"f":1.210,"e":0.008},{"s":"2742","p":0.8357,"f":1.208,"e":0.006},
    {"s":"2742","p":0.8385,"f":1.230,"e":0.006},{"s":"2742","p":0.8421,"f":1.238,"e":0.006},{"s":"2742","p":0.8452,"f":1.223,"e":0.006},{"s":"2742","p":0.8484,"f":1.222,"e":0.006},
    {"s":"2742","p":0.8522,"f":1.225,"e":0.006},{"s":"2742","p":0.8554,"f":1.217,"e":0.006},{"s":"2742","p":0.8586,"f":1.233,"e":0.006},{"s":"2742","p":0.8622,"f":1.225,"e":0.006},
    {"s":"2742","p":0.8658,"f":1.227,"e":0.006},{"s":"2742","p":0.8692,"f":1.221,"e":0.006},{"s":"2742","p":0.8722,"f":1.216,"e":0.006},{"s":"2742","p":0.8755,"f":1.205,"e":0.008},
    {"s":"2742","p":0.8791,"f":1.215,"e":0.006},{"s":"2742","p":0.8823,"f":1.214,"e":0.008},{"s":"2742","p":0.8855,"f":1.215,"e":0.010},

    {"s":"2737","p":0.0024,"f":1.133,"e":0.006},{"s":"2737","p":0.0045,"f":1.111,"e":0.010},{"s":"2737","p":0.0076,"f":1.113,"e":0.006},{"s":"2737","p":0.0114,"f":1.117,"e":0.006},
    {"s":"2737","p":0.0143,"f":1.112,"e":0.006},{"s":"2737","p":0.0176,"f":1.102,"e":0.010},{"s":"2737","p":0.0212,"f":1.113,"e":0.008},{"s":"2737","p":0.0247,"f":1.108,"e":0.006},
    {"s":"2737","p":0.0281,"f":1.130,"e":0.011},{"s":"2737","p":0.0316,"f":1.116,"e":0.014},{"s":"2737","p":0.0348,"f":1.123,"e":0.006},{"s":"2737","p":0.0381,"f":1.097,"e":0.006},
    {"s":"2737","p":0.0414,"f":1.106,"e":0.006},{"s":"2737","p":0.0448,"f":1.116,"e":0.006},{"s":"2737","p":0.0483,"f":1.119,"e":0.006},{"s":"2737","p":0.0519,"f":1.112,"e":0.006},
    {"s":"2737","p":0.0552,"f":1.103,"e":0.006},{"s":"2737","p":0.0588,"f":1.098,"e":0.006},{"s":"2737","p":0.0615,"f":1.114,"e":0.010},{"s":"2737","p":0.0650,"f":1.136,"e":0.010},
    {"s":"2737","p":0.0686,"f":1.119,"e":0.006},{"s":"2737","p":0.0715,"f":1.139,"e":0.006},{"s":"2737","p":0.0749,"f":1.138,"e":0.010},{"s":"2737","p":0.0786,"f":1.140,"e":0.006},
    {"s":"2737","p":0.0820,"f":1.134,"e":0.008},{"s":"2737","p":0.0853,"f":1.146,"e":0.009},{"s":"2737","p":0.0886,"f":1.126,"e":0.012},{"s":"2737","p":0.0922,"f":1.116,"e":0.008},
    {"s":"2737","p":0.0953,"f":1.085,"e":0.006},{"s":"2737","p":0.0987,"f":1.108,"e":0.010},{"s":"2737","p":0.1026,"f":1.104,"e":0.006},{"s":"2737","p":0.1053,"f":1.081,"e":0.008},
    {"s":"2737","p":0.1089,"f":1.061,"e":0.006},{"s":"2737","p":0.1120,"f":1.074,"e":0.006},{"s":"2737","p":0.1158,"f":1.090,"e":0.009},{"s":"2737","p":0.1189,"f":1.059,"e":0.006},
    {"s":"2737","p":0.1225,"f":1.069,"e":0.006},{"s":"2737","p":0.1256,"f":1.040,"e":0.009},{"s":"2737","p":0.1287,"f":1.048,"e":0.009},{"s":"2737","p":0.1319,"f":1.074,"e":0.009},
    {"s":"2737","p":0.1350,"f":1.069,"e":0.008},{"s":"2737","p":0.1392,"f":1.072,"e":0.006},{"s":"2737","p":0.1427,"f":1.069,"e":0.006},{"s":"2737","p":0.1459,"f":1.078,"e":0.006},
    {"s":"2737","p":0.1496,"f":1.081,"e":0.008},{"s":"2737","p":0.1527,"f":1.092,"e":0.010},{"s":"2737","p":0.1555,"f":1.113,"e":0.012},{"s":"2737","p":0.1590,"f":1.113,"e":0.012},
    {"s":"2737","p":0.1626,"f":1.137,"e":0.006},{"s":"2737","p":0.1659,"f":1.140,"e":0.006},{"s":"2737","p":0.1688,"f":1.107,"e":0.006},{"s":"2737","p":0.1726,"f":1.145,"e":0.008},
    {"s":"2737","p":0.1759,"f":1.111,"e":0.008},{"s":"2737","p":0.1784,"f":1.119,"e":0.008},{"s":"2737","p":0.1820,"f":1.123,"e":0.006},{"s":"2737","p":0.1861,"f":1.121,"e":0.012},
    {"s":"2737","p":0.1893,"f":1.083,"e":0.006},{"s":"2737","p":0.1924,"f":1.093,"e":0.008},{"s":"2737","p":0.1959,"f":1.095,"e":0.010},{"s":"2737","p":0.1993,"f":1.073,"e":0.015},
    {"s":"2737","p":0.2028,"f":1.088,"e":0.010},{"s":"2737","p":0.2060,"f":1.104,"e":0.006},{"s":"2737","p":0.2097,"f":1.119,"e":0.008},{"s":"2737","p":0.2127,"f":1.131,"e":0.006},
    {"s":"2737","p":0.2164,"f":1.131,"e":0.008},{"s":"2737","p":0.2189,"f":1.109,"e":0.006},{"s":"2737","p":0.2223,"f":1.096,"e":0.016},{"s":"2737","p":0.2258,"f":1.100,"e":0.006},
    {"s":"2737","p":0.2294,"f":1.100,"e":0.006},{"s":"2737","p":0.2327,"f":1.135,"e":0.006},{"s":"2737","p":0.2363,"f":1.100,"e":0.006},{"s":"2737","p":0.2398,"f":1.096,"e":0.006},
    {"s":"2737","p":0.2432,"f":1.104,"e":0.010},{"s":"2737","p":0.2461,"f":1.078,"e":0.008},{"s":"2737","p":0.2488,"f":1.070,"e":0.013},
    {"s":"2737","p":0.8029,"f":1.096,"e":0.006},{"s":"2737","p":0.8071,"f":1.097,"e":0.006},{"s":"2737","p":0.8103,"f":1.121,"e":0.010},{"s":"2737","p":0.8141,"f":1.116,"e":0.008},
    {"s":"2737","p":0.8171,"f":1.118,"e":0.006},{"s":"2737","p":0.8205,"f":1.140,"e":0.006},{"s":"2737","p":0.8241,"f":1.126,"e":0.006},{"s":"2737","p":0.8277,"f":1.121,"e":0.006},
    {"s":"2737","p":0.8311,"f":1.113,"e":0.006},{"s":"2737","p":0.8340,"f":1.140,"e":0.006},{"s":"2737","p":0.8378,"f":1.134,"e":0.006},{"s":"2737","p":0.8406,"f":1.123,"e":0.006},
    {"s":"2737","p":0.8442,"f":1.116,"e":0.006},{"s":"2737","p":0.8480,"f":1.104,"e":0.006},{"s":"2737","p":0.8515,"f":1.090,"e":0.006},{"s":"2737","p":0.8550,"f":1.088,"e":0.006},
    {"s":"2737","p":0.8580,"f":1.091,"e":0.006},{"s":"2737","p":0.8607,"f":1.100,"e":0.006},{"s":"2737","p":0.8640,"f":1.090,"e":0.006},{"s":"2737","p":0.8675,"f":1.119,"e":0.010},
    {"s":"2737","p":0.8707,"f":1.110,"e":0.008},{"s":"2737","p":0.8743,"f":1.107,"e":0.010},{"s":"2737","p":0.8777,"f":1.103,"e":0.010},{"s":"2737","p":0.8806,"f":1.116,"e":0.006},
    {"s":"2737","p":0.8844,"f":1.118,"e":0.006},{"s":"2737","p":0.8876,"f":1.135,"e":0.014},{"s":"2737","p":0.8908,"f":1.115,"e":0.006},{"s":"2737","p":0.8939,"f":1.111,"e":0.006},
    {"s":"2737","p":0.8971,"f":1.106,"e":0.006},{"s":"2737","p":0.9003,"f":1.098,"e":0.006},{"s":"2737","p":0.9035,"f":1.103,"e":0.006},{"s":"2737","p":0.9073,"f":1.110,"e":0.006},
    {"s":"2737","p":0.9109,"f":1.115,"e":0.006},{"s":"2737","p":0.9141,"f":1.103,"e":0.008},{"s":"2737","p":0.9183,"f":1.106,"e":0.006},{"s":"2737","p":0.9226,"f":1.091,"e":0.006},
    {"s":"2737","p":0.9268,"f":1.092,"e":0.006},{"s":"2737","p":0.9310,"f":1.098,"e":0.006},{"s":"2737","p":0.9348,"f":1.116,"e":0.006},{"s":"2737","p":0.9384,"f":1.118,"e":0.012},
    {"s":"2737","p":0.9416,"f":1.097,"e":0.006},{"s":"2737","p":0.9448,"f":1.112,"e":0.008},{"s":"2737","p":0.9484,"f":1.140,"e":0.006},{"s":"2737","p":0.9518,"f":1.125,"e":0.010},
    {"s":"2737","p":0.9548,"f":1.102,"e":0.006},{"s":"2737","p":0.9581,"f":1.106,"e":0.006},{"s":"2737","p":0.9617,"f":1.121,"e":0.008},{"s":"2737","p":0.9653,"f":1.113,"e":0.006},
    {"s":"2737","p":0.9687,"f":1.123,"e":0.010},{"s":"2737","p":0.9713,"f":1.132,"e":0.008},{"s":"2737","p":0.9751,"f":1.108,"e":0.006},{"s":"2737","p":0.9781,"f":1.134,"e":0.010},
    {"s":"2737","p":0.9819,"f":1.134,"e":0.014},{"s":"2737","p":0.9857,"f":1.135,"e":0.006},{"s":"2737","p":0.9882,"f":1.151,"e":0.006},{"s":"2737","p":0.9921,"f":1.134,"e":0.006},
    {"s":"2737","p":0.9950,"f":1.131,"e":0.008},{"s":"2737","p":0.9978,"f":1.150,"e":0.006},

    {"s":"2735","p":0.4786,"f":0.990,"e":0.009},{"s":"2735","p":0.4823,"f":1.005,"e":0.012},{"s":"2735","p":0.4859,"f":1.000,"e":0.010},{"s":"2735","p":0.4896,"f":1.009,"e":0.009},
    {"s":"2735","p":0.4925,"f":0.993,"e":0.012},{"s":"2735","p":0.4964,"f":0.986,"e":0.018},{"s":"2735","p":0.4993,"f":1.003,"e":0.010},{"s":"2735","p":0.5030,"f":0.996,"e":0.012},
    {"s":"2735","p":0.5066,"f":0.997,"e":0.012},{"s":"2735","p":0.5096,"f":0.997,"e":0.016},{"s":"2735","p":0.5135,"f":0.992,"e":0.010},{"s":"2735","p":0.5159,"f":0.978,"e":0.008},
    {"s":"2735","p":0.5200,"f":0.978,"e":0.008},{"s":"2735","p":0.5225,"f":1.015,"e":0.012},{"s":"2735","p":0.5266,"f":0.986,"e":0.012},{"s":"2735","p":0.5298,"f":1.006,"e":0.014},
    {"s":"2735","p":0.5330,"f":1.014,"e":0.010},{"s":"2735","p":0.5364,"f":0.993,"e":0.014},{"s":"2735","p":0.5403,"f":1.017,"e":0.010},{"s":"2735","p":0.5432,"f":0.998,"e":0.010},
    {"s":"2735","p":0.5469,"f":1.010,"e":0.006},{"s":"2735","p":0.5505,"f":1.009,"e":0.010},{"s":"2735","p":0.5534,"f":1.003,"e":0.010},{"s":"2735","p":0.5566,"f":1.002,"e":0.010},
    {"s":"2735","p":0.5598,"f":0.986,"e":0.008},{"s":"2735","p":0.5632,"f":0.997,"e":0.010},{"s":"2735","p":0.5664,"f":1.007,"e":0.010},{"s":"2735","p":0.5700,"f":1.009,"e":0.010},
    {"s":"2735","p":0.5737,"f":1.023,"e":0.008},{"s":"2735","p":0.5761,"f":0.987,"e":0.012},{"s":"2735","p":0.5798,"f":0.987,"e":0.006},{"s":"2735","p":0.5827,"f":0.981,"e":0.008},
    {"s":"2735","p":0.5866,"f":0.988,"e":0.008},{"s":"2735","p":0.5900,"f":0.983,"e":0.008},{"s":"2735","p":0.5932,"f":0.973,"e":0.008},{"s":"2735","p":0.5968,"f":0.970,"e":0.014},
    {"s":"2735","p":0.5997,"f":0.985,"e":0.010},{"s":"2735","p":0.6029,"f":0.988,"e":0.010},{"s":"2735","p":0.6065,"f":0.994,"e":0.010},{"s":"2735","p":0.6102,"f":1.003,"e":0.010},
    {"s":"2735","p":0.6134,"f":0.975,"e":0.006},{"s":"2735","p":0.6163,"f":1.014,"e":0.009},{"s":"2735","p":0.6200,"f":0.983,"e":0.010},{"s":"2735","p":0.6232,"f":1.009,"e":0.010},
    {"s":"2735","p":0.6266,"f":0.993,"e":0.012},{"s":"2735","p":0.6297,"f":1.001,"e":0.012},{"s":"2735","p":0.6329,"f":0.997,"e":0.012},{"s":"2735","p":0.6363,"f":1.006,"e":0.016},
    {"s":"2735","p":0.6402,"f":1.010,"e":0.008},{"s":"2735","p":0.6436,"f":1.034,"e":0.008},{"s":"2735","p":0.6468,"f":1.025,"e":0.008},{"s":"2735","p":0.6504,"f":1.007,"e":0.018},
    {"s":"2735","p":0.6533,"f":1.023,"e":0.010},{"s":"2735","p":0.6573,"f":1.006,"e":0.008},{"s":"2735","p":0.6607,"f":1.016,"e":0.008},{"s":"2735","p":0.6638,"f":1.027,"e":0.008},
    {"s":"2735","p":0.6670,"f":1.037,"e":0.008},{"s":"2735","p":0.6704,"f":1.031,"e":0.008},{"s":"2735","p":0.6736,"f":1.006,"e":0.006},{"s":"2735","p":0.6772,"f":1.037,"e":0.008},
    {"s":"2735","p":0.6802,"f":1.023,"e":0.008},{"s":"2735","p":0.6841,"f":1.014,"e":0.012},{"s":"2735","p":0.6870,"f":1.025,"e":0.008},{"s":"2735","p":0.6907,"f":1.016,"e":0.008},
    {"s":"2735","p":0.6939,"f":1.003,"e":0.010},{"s":"2735","p":0.6972,"f":0.988,"e":0.008},{"s":"2735","p":0.7004,"f":1.012,"e":0.012},{"s":"2735","p":0.7040,"f":1.005,"e":0.010},
    {"s":"2735","p":0.7077,"f":0.997,"e":0.012},{"s":"2735","p":0.7114,"f":1.005,"e":0.010},{"s":"2735","p":0.7150,"f":1.008,"e":0.010},{"s":"2735","p":0.7187,"f":1.007,"e":0.010},
    {"s":"2735","p":0.7216,"f":1.007,"e":0.008},{"s":"2735","p":0.7240,"f":0.991,"e":0.010},{"s":"2735","p":0.7279,"f":0.991,"e":0.012},{"s":"2735","p":0.7312,"f":0.993,"e":0.010},
    {"s":"2735","p":0.7345,"f":0.988,"e":0.012},{"s":"2735","p":0.7377,"f":1.004,"e":0.008},{"s":"2735","p":0.7406,"f":0.993,"e":0.018},{"s":"2735","p":0.7443,"f":0.974,"e":0.025},
    {"s":"2735","p":0.7479,"f":0.967,"e":0.020},{"s":"2735","p":0.7508,"f":1.002,"e":0.008},{"s":"2735","p":0.7540,"f":0.978,"e":0.010},{"s":"2735","p":0.7577,"f":0.975,"e":0.010},
    {"s":"2735","p":0.7601,"f":0.960,"e":0.010},{"s":"2735","p":0.7645,"f":0.935,"e":0.012},{"s":"2735","p":0.7679,"f":0.941,"e":0.008},{"s":"2735","p":0.7711,"f":0.971,"e":0.010},
    {"s":"2735","p":0.7747,"f":0.973,"e":0.016},{"s":"2735","p":0.7777,"f":0.957,"e":0.008},{"s":"2735","p":0.7815,"f":0.989,"e":0.016},{"s":"2735","p":0.7845,"f":0.973,"e":0.012},
    {"s":"2735","p":0.7881,"f":0.977,"e":0.012},{"s":"2735","p":0.7906,"f":0.999,"e":0.014},{"s":"2735","p":0.7938,"f":1.007,"e":0.010},{"s":"2735","p":0.7979,"f":1.006,"e":0.008},
    {"s":"2735","p":0.8015,"f":1.012,"e":0.008},{"s":"2735","p":0.8045,"f":0.987,"e":0.012},{"s":"2735","p":0.8084,"f":0.987,"e":0.008},{"s":"2735","p":0.8113,"f":0.999,"e":0.008},
    {"s":"2735","p":0.8150,"f":1.006,"e":0.008},{"s":"2735","p":0.8186,"f":1.012,"e":0.008},{"s":"2735","p":0.8215,"f":0.998,"e":0.010},{"s":"2735","p":0.8247,"f":1.032,"e":0.008},
    {"s":"2735","p":0.8283,"f":1.034,"e":0.008},{"s":"2735","p":0.8320,"f":1.008,"e":0.008},{"s":"2735","p":0.8356,"f":1.008,"e":0.012},{"s":"2735","p":0.8385,"f":1.030,"e":0.008},
    {"s":"2735","p":0.8417,"f":1.016,"e":0.012},{"s":"2735","p":0.8434,"f":0.997,"e":0.018}
  ]},
  "layer": [
    {
      "mark": {"type": "errorbar", "thickness": 2.5},
      "encoding": {
        "x": {"field": "p", "type": "quantitative", "title": "Orbital phase for p = 9.937 hours",
              "scale": {"domain": [0, 1], "nice": false, "zero": false},
              "axis": {"values": [0,0.05,0.1,0.15,0.2,0.25,0.3,0.35,0.4,0.45,0.5,0.55,0.6,0.65,0.7,0.75,0.8,0.85,0.9,0.95,1],
                       "labelExpr": "abs(datum.value*10 - round(datum.value*10)) < 0.001 ? format(datum.value, '.1f') : ''",
                       "tickSize": {"condition": {"test": "abs(datum.value*10 - round(datum.value*10)) < 0.001", "value": 19}, "value": 12.5},
                       "tickWidth": {"condition": {"test": "abs(datum.value*10 - round(datum.value*10)) < 0.001", "value": 3.5}, "value": 2.5},
                       "titlePadding": 19}},
        "y": {"field": "f", "type": "quantitative", "title": "Normalised flux + offset",
              "scale": {"domain": [0.8715, 2.0287], "nice": false, "zero": false},
              "axis": {"values": [0.9,0.95,1,1.05,1.1,1.15,1.2,1.25,1.3,1.35,1.4,1.45,1.5,1.55,1.6,1.65,1.7,1.75,1.8,1.85,1.9,1.95,2],
                       "labelExpr": "abs(datum.value*5 - round(datum.value*5)) < 0.001 ? format(datum.value, '.1f') : ''",
                       "tickSize": {"condition": {"test": "abs(datum.value*5 - round(datum.value*5)) < 0.001", "value": 19}, "value": 12.5},
                       "tickWidth": {"condition": {"test": "abs(datum.value*5 - round(datum.value*5)) < 0.001", "value": 3.5}, "value": 2.5},
                       "titlePadding": 13}},
        "yError": {"field": "e"},
        "color": {"field": "s", "type": "nominal", "legend": null,
                  "scale": {"domain": ["2838","2836","2759","2754","2749","2747","2742","2737","2735"],
                            "range": ["#5F9EA0","#5F9EA0","#FA8072","#FA8072","#FA8072","#FA8072","#FA8072","#FA8072","#FA8072"]}}
      }
    },
    {
      "mark": {"type": "circle", "size": 150, "opacity": 0.9, "clip": true},
      "encoding": {
        "x": {"field": "p", "type": "quantitative", "title": "Orbital phase for p = 9.937 hours"},
        "y": {"field": "f", "type": "quantitative", "title": "Normalised flux + offset"},
        "color": {"field": "s", "type": "nominal", "legend": null}
      }
    },
    {
      "data": {"values": [
        {"d": "2024 Jan 06", "c": "2838", "lv": 1.88},
        {"d": "2024 Jan 05", "c": "2836", "lv": 1.77},
        {"d": "2023 Dec 05", "c": "2759", "lv": 1.66},
        {"d": "2023 Dec 03", "c": "2754", "lv": 1.55},
        {"d": "2023 Dec 01", "c": "2749", "lv": 1.44},
        {"d": "2023 Nov 30", "c": "2747", "lv": 1.33},
        {"d": "2023 Nov 28", "c": "2742", "lv": 1.22},
        {"d": "2023 Nov 26", "c": "2737", "lv": 1.11},
        {"d": "2023 Nov 25", "c": "2735", "lv": 1.0}
      ]},
      "layer": [
        {
          "mark": {"type": "text", "align": "left", "baseline": "middle", "font": "DejaVu Sans", "fontSize": 30, "color": "#808080"},
          "encoding": {
            "x": {"datum": 0.3407, "type": "quantitative"},
            "y": {"field": "lv", "type": "quantitative", "title": "Normalised flux + offset"},
            "text": {"field": "d"}
          }
        },
        {
          "mark": {"type": "text", "align": "left", "baseline": "middle", "font": "DejaVu Sans", "fontSize": 30, "color": "#808080"},
          "encoding": {
            "x": {"datum": 1.0213, "type": "quantitative"},
            "y": {"field": "lv", "type": "quantitative", "title": "Normalised flux + offset"},
            "text": {"field": "c"}
          }
        }
      ]
    },
    {
      "data": {"values": [{"h": "Cycle"}]},
      "mark": {"type": "text", "align": "left", "baseline": "middle", "font": "DejaVu Sans", "fontSize": 30, "color": "#808080"},
      "encoding": {
        "x": {"datum": 1.0213, "type": "quantitative"},
        "y": {"datum": 1.965, "type": "quantitative"},
        "text": {"field": "h"}
      }
    }
  ]
}
